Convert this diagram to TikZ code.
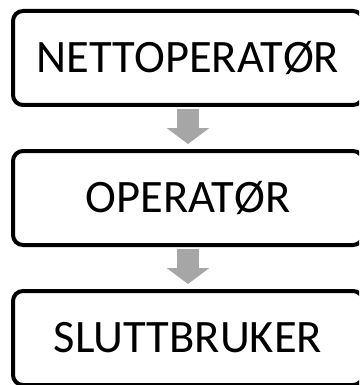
\documentclass[tikz,border=0pt]{standalone}
\usepackage{fontspec}
\setmainfont{Carlito}
\usepackage{xcolor}
\usepackage{tikz}
\usetikzlibrary{arrows.meta, positioning}

\definecolor{pilgraa}{HTML}{A6A6A6}

\begin{document}
\begin{tikzpicture}[x=1pt, y=1pt,
    boks/.style={draw, line width=4pt, rounded corners=10pt, outer sep=0pt,
        minimum width=350pt, minimum height=94pt, inner sep=0pt,
        text height=29pt, text depth=0pt, font=\fontsize{46.5}{50}\selectfont},
    pil/.style={pilgraa, line width=22pt,
        -{Triangle[width=42pt, length=16pt]},
        shorten <=4pt, shorten >=7pt}]
    \useasboundingbox (0,0) rectangle (359,-385);
    \clip (0,0) rectangle (359,-385);

    % 1. Boksene
    \node[boks] (netto) at (188,-58) {NETTOPERATØR};
    \node[boks, below=46pt of netto] (operator) {OPERATØR};
    \node[boks, below=46pt of operator] (bruker) {SLUTTBRUKER};

    % 2. Grå pilene mellom boksene
    \draw[pil] (netto.south) -- (operator.north);
    \draw[pil] (operator.south) -- (bruker.north);
\end{tikzpicture}
\end{document}
